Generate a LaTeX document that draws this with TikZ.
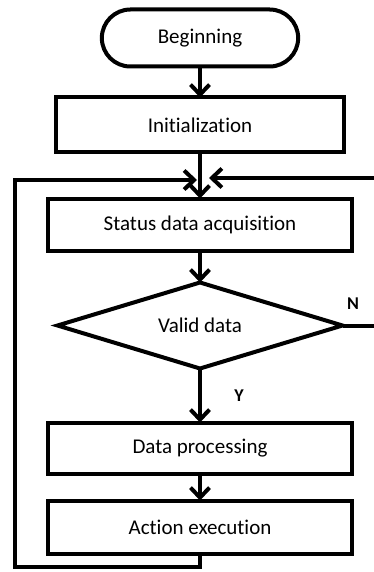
\documentclass[tikz,border=0pt]{standalone}
\usepackage{fontspec}
\setmainfont{Carlito}[Ligatures=NoCommon]
\usetikzlibrary{shapes,shapes.geometric,shapes.misc,arrows.meta,positioning}

\begin{document}
\begin{tikzpicture}[
    >={Straight Barb[length=10pt,width=19pt]},x=1pt,y=1pt,
    font=\fontsize{21}{24}\selectfont,
    block/.style={rectangle,draw,line width=4pt,outer sep=0pt,minimum width=304pt,minimum height=53pt},
    term/.style={rounded rectangle,draw,line width=4pt,outer sep=0pt,minimum width=203pt,minimum height=57pt},
    decision/.style={diamond,draw,line width=4pt,outer sep=0pt,inner sep=0pt,minimum width=285pt,minimum height=86pt},
    flow/.style={->,line width=4pt},
    yn/.style={font=\fontsize{18}{20}\selectfont\bfseries}]
    \useasboundingbox (0,0) rectangle (374,-572);
    \node[label=center:Beginning,term] (B) at (200,-38) {};
    \node[label=center:Initialization,block,minimum width=288pt,minimum height=55pt] (I) [below=31pt of B] {};
    \node[label=center:Status data acquisition,block,minimum height=52pt] (S) [below=46pt of I] {};
    \node[label=center:Valid data,decision] (V) [below=32pt of S] {};
    \node[label=center:Data processing,block,minimum height=51pt] (D) [below=54pt of V] {};
    \node[label=center:Action execution,block] (A) [below=27pt of D] {};
    \node[yn] (N) at (353,-304) {N};
    \node[yn] (Y) at (239,-396) {Y};

    % loop points
    \coordinate (Ml) at (197,-180);
    \coordinate (Mr) at (209,-178);
    \coordinate (LB) at (15,-567);
    \coordinate (NR) at (384,-178);

    \draw[flow] (B) -- (I);
    \draw[flow] (I) -- (S);
    \draw[flow] (S) -- (V);
    \draw[flow] (V) -- (D);
    \draw[flow] (D) -- (A);
    \draw[flow] (A.south) |- (LB) |- (Ml);
    \draw[flow] (V.east) -| (NR) -- (Mr);
  \end{tikzpicture}
\end{document}
